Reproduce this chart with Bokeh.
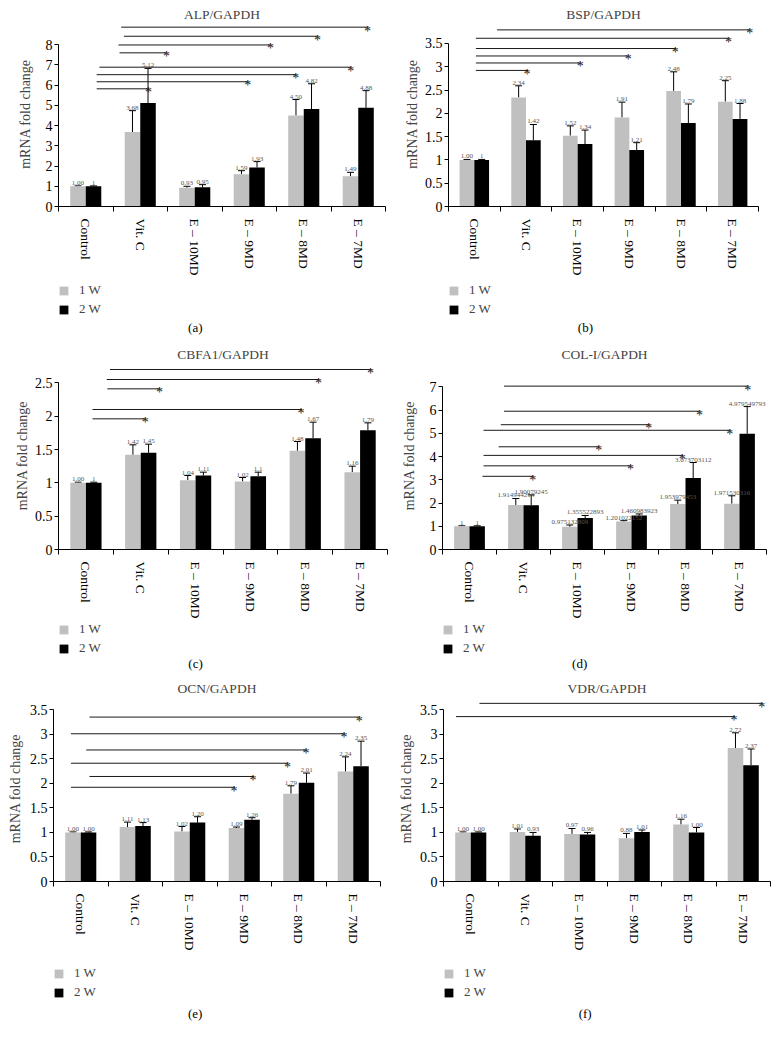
from bokeh.plotting import figure
from bokeh.models import (Range1d, FixedTicker, NumeralTickFormatter, Whisker, TeeHead,
                          ColumnDataSource, Legend, LegendItem)
from bokeh.layouts import column, row
from bokeh.embed import file_html
from bokeh.resources import INLINE
from bokeh.core.properties import value

# ---------------- data ----------------
categories = ["Control", "Vit. C", "E \u2013 10MD", "E \u2013 9MD", "E \u2013 8MD", "E \u2013 7MD"]
series_names = ["1 W", "2 W"]

# (a) ALP/GAPDH
alp_1w = [1.00, 3.68, 0.93, 1.59, 4.50, 1.49]
alp_2w = [1.00, 5.12, 0.95, 1.93, 4.82, 4.88]
alp_err_1w = [0.02, 1.06, 0.07, 0.18, 0.79, 0.20]
alp_err_2w = [0.02, 1.71, 0.13, 0.29, 1.25, 0.85]
alp_lab_1w = ["1.00", "3.68", "0.93", "1.59", "4.50", "1.49"]
alp_lab_2w = ["1", "5.12", "0.95", "1.93", "4.82", "4.88"]
alp_sig_from = [0.65, 0.70, 0.60, 0.62, 0.25, 0.20, 0.20, 0.20]
alp_sig_to = [5.19, 4.27, 3.41, 1.50, 4.88, 3.87, 2.99, 1.17]
alp_sig_y = [8.87, 8.42, 7.99, 7.60, 6.89, 6.52, 6.17, 5.82]

# (b) BSP/GAPDH
bsp_1w = [1.00, 2.34, 1.52, 1.91, 2.48, 2.25]
bsp_2w = [1.00, 1.42, 1.34, 1.21, 1.79, 1.88]
bsp_err_1w = [0.01, 0.25, 0.21, 0.33, 0.41, 0.45]
bsp_err_2w = [0.01, 0.34, 0.30, 0.16, 0.41, 0.33]
bsp_lab_1w = ["1.00", "2.34", "1.52", "1.91", "2.48", "2.25"]
bsp_lab_2w = ["1", "1.42", "1.34", "1.21", "1.79", "1.88"]
bsp_sig_from = [0.44, 0.03, 0.03, 0.03, 0.03, 0.03]
bsp_sig_to = [5.35, 4.94, 3.91, 3.00, 2.07, 1.04]
bsp_sig_y = [3.79, 3.61, 3.39, 3.23, 3.08, 2.92]

# (c) CBFA1/GAPDH
cbfa1_1w = [1.00, 1.42, 1.04, 1.02, 1.48, 1.16]
cbfa1_2w = [1.00, 1.45, 1.11, 1.10, 1.67, 1.79]
cbfa1_err_1w = [0.01, 0.15, 0.07, 0.06, 0.14, 0.09]
cbfa1_err_2w = [0.01, 0.13, 0.05, 0.06, 0.24, 0.11]
cbfa1_lab_1w = ["1.00", "1.42", "1.04", "1.02", "1.48", "1.16"]
cbfa1_lab_2w = ["1", "1.45", "1.11", "1.1", "1.67", "1.79"]
cbfa1_sig_from = [0.44, 0.38, 0.39, 0.12, 0.12]
cbfa1_sig_to = [5.21, 4.26, 1.36, 3.94, 1.10]
cbfa1_sig_y = [2.70, 2.55, 2.41, 2.10, 1.96]

# (d) COL-I/GAPDH
col1_1w = [1, 1.914944214, 0.975132809, 1.201022152, 1.953979453, 1.971530316]
col1_2w = [1, 1.90079245, 1.355522893, 1.460983923, 3.073703112, 4.979549793]
col1_err_1w = [0.02, 0.28, 0.08, 0.04, 0.17, 0.34]
col1_err_2w = [0.02, 0.45, 0.11, 0.07, 0.67, 1.17]
col1_lab_1w = ["1", "1.914944214", "0.975132809", "1.201022152", "1.953979453", "1.971530316"]
col1_lab_2w = ["1", "1.90079245", "1.355522893", "1.460983923", "3.073703112", "4.979549793"]
col1_sig_from = [0.64, 0.64, 0.58, 0.26, 0.54, 0.26, 0.26, 0.24]
col1_sig_to = [5.17, 4.28, 3.34, 4.84, 2.41, 3.96, 3.00, 1.19]
col1_sig_y = [7.03, 5.95, 5.37, 5.13, 4.42, 4.05, 3.60, 3.15]

# (e) OCN/GAPDH
ocn_1w = [1.00, 1.11, 1.02, 1.09, 1.79, 2.24]
ocn_2w = [1.00, 1.13, 1.20, 1.26, 2.01, 2.35]
ocn_err_1w = [0.01, 0.10, 0.10, 0.02, 0.16, 0.30]
ocn_err_2w = [0.01, 0.07, 0.12, 0.04, 0.20, 0.51]
ocn_lab_1w = ["1.00", "1.11", "1.02", "1.09", "1.79", "2.24"]
ocn_lab_2w = ["1.00", "1.13", "1.20", "1.26", "2.01", "2.35"]
ocn_sig_from = [0.16, -0.18, 0.10, -0.18, 0.16, -0.18]
ocn_sig_to = [5.13, 4.85, 4.15, 3.81, 3.18, 2.83]
ocn_sig_y = [3.35, 3.01, 2.68, 2.41, 2.14, 1.92]

# (f) VDR/GAPDH
vdr_1w = [1.00, 1.01, 0.97, 0.88, 1.16, 2.72]
vdr_2w = [1.00, 0.93, 0.96, 1.01, 1.00, 2.37]
vdr_err_1w = [0.01, 0.06, 0.11, 0.10, 0.11, 0.31]
vdr_err_2w = [0.01, 0.07, 0.04, 0.04, 0.10, 0.33]
vdr_lab_1w = ["1.00", "1.01", "0.97", "0.88", "1.16", "2.72"]
vdr_lab_2w = ["1.00", "0.93", "0.96", "1.01", "1.00", "2.37"]
vdr_sig_from = [0.16, -0.27]
vdr_sig_to = [5.36, 4.85]
vdr_sig_y = [3.63, 3.36]

# ---------------- style ----------------
FONT = "Liberation Serif"
GRAY = "#c0c0c0"
BLACK = "#000000"
BAR_W = 0.285
OFF = 0.1425
FIG_W = 390
XR = (-0.5, 5.5)


def make_main(title, v1, v2, e1, e2, l1, l2, s0, s1, sy, ymax, ystep, yend, lay):
    H, L, R, T, ylab_so = lay
    B = 70
    p = figure(width=FIG_W, height=H, x_range=Range1d(*XR), y_range=Range1d(0, yend),
               output_backend="svg", toolbar_location=None,
               min_border_left=L, min_border_right=R, min_border_top=T, min_border_bottom=B)
    p.title.text = title
    p.title.text_font = FONT
    p.title.text_font_size = "13.5px"
    p.title.text_font_style = "normal"
    p.title.align = "center"
    p.title.standoff = 0
    p.outline_line_color = None
    p.xgrid.visible = False
    p.ygrid.visible = False

    xs = list(range(len(categories)))
    src1 = ColumnDataSource(dict(x=[x - OFF for x in xs], top=v1,
                                 up=[a + b for a, b in zip(v1, e1)], lab=l1))
    src2 = ColumnDataSource(dict(x=[x + OFF for x in xs], top=v2,
                                 up=[a + b for a, b in zip(v2, e2)], lab=l2))

    p.vbar(x="x", top="top", width=BAR_W, source=src1, fill_color=GRAY, line_color=None)
    p.vbar(x="x", top="top", width=BAR_W, source=src2, fill_color=BLACK, line_color=None)

    for src in (src1, src2):
        w = Whisker(source=src, base="x", lower="top", upper="up", dimension="height",
                    line_color="black", line_width=1,
                    upper_head=TeeHead(size=7, line_color="black", line_width=1),
                    lower_head=None)
        p.add_layout(w)
        p.text(x="x", y="up", text="lab", source=src, text_font=value(FONT),
               text_font_size="7px", text_color="#555555", text_align="center",
               text_baseline="bottom", y_offset=-1)

    sig = ColumnDataSource(dict(x0=s0, x1=s1, y=sy, star=["*"] * len(sy)))
    p.segment(x0="x0", y0="y", x1="x1", y1="y", source=sig, line_color="#1a1a1a", line_width=1)
    p.text(x="x1", y="y", text="star", source=sig, text_font=value(FONT),
           text_font_size="14px", text_color="#1a1a1a", text_align="center",
           text_baseline="alphabetic", y_offset=4, x_offset=-1)

    n = int(round(ymax / ystep))
    p.yaxis.ticker = FixedTicker(ticks=[k * ystep for k in range(n + 1)])
    p.yaxis.formatter = NumeralTickFormatter(format="0.[0]")
    p.yaxis.bounds = (0, ymax)
    p.yaxis.axis_label = "mRNA fold change"
    p.yaxis.axis_label_text_font = FONT
    p.yaxis.axis_label_text_font_size = "14px"
    p.yaxis.axis_label_text_font_style = "normal"
    p.yaxis.axis_label_standoff = ylab_so
    p.yaxis.major_label_text_font = FONT
    p.yaxis.major_label_text_font_size = "14px"
    p.yaxis.major_label_text_color = "black"
    p.yaxis.major_label_standoff = 2
    p.yaxis.major_tick_in = 0
    p.yaxis.major_tick_out = 4
    p.yaxis.minor_tick_line_color = None
    p.yaxis.axis_line_color = "black"
    p.yaxis.major_tick_line_color = "black"

    p.xaxis.ticker = FixedTicker(ticks=xs, minor_ticks=[x - 0.5 for x in xs] + [5.5])
    p.xaxis.major_label_overrides = {i: c for i, c in enumerate(categories)}
    p.xaxis.major_label_orientation = "vertical"
    p.xaxis.major_label_text_font = FONT
    p.xaxis.major_label_text_font_size = "13.5px"
    p.xaxis.major_label_text_color = "black"
    p.xaxis.major_label_standoff = 7
    p.xaxis.major_tick_in = 0
    p.xaxis.major_tick_out = 0
    p.xaxis.minor_tick_in = 0
    p.xaxis.minor_tick_out = 5
    p.xaxis.minor_tick_line_color = "black"
    p.xaxis.axis_line_color = "black"
    return p


def make_foot(caption, lay):
    # the foot frame is aligned with the main frame above it (same x range)
    hf, leg_top, cap_x, cap_y = lay
    f = figure(width=FIG_W, height=hf, x_range=Range1d(*XR), y_range=Range1d(0, hf),
               output_backend="svg", toolbar_location=None, x_axis_type=None, y_axis_type=None,
               min_border=0)
    f.outline_line_color = None
    f.xgrid.visible = False
    f.ygrid.visible = False
    hidden1 = ColumnDataSource(dict(x=[-99], top=[0]))
    hidden2 = ColumnDataSource(dict(x=[-99], top=[0]))
    r1 = f.vbar(x="x", top="top", width=0.3, source=hidden1, fill_color=GRAY, line_color=None)
    r2 = f.vbar(x="x", top="top", width=0.3, source=hidden2, fill_color=BLACK, line_color=None)
    leg_h = 35
    legend = Legend(items=[LegendItem(label=series_names[0], renderers=[r1]),
                           LegendItem(label=series_names[1], renderers=[r2])],
                    location=(0, hf - leg_top - leg_h), orientation="vertical",
                    margin=0, padding=0, border_line_color=None, background_fill_alpha=0,
                    glyph_width=11, glyph_height=11, label_height=11, spacing=3,
                    label_standoff=10, label_text_font=FONT, label_text_font_size="13px",
                    label_text_baseline="middle")
    f.add_layout(legend, "center")
    f.text(x=[cap_x], y=[hf - cap_y], text=[caption], text_font=value(FONT),
           text_font_size="13px", text_color="black", text_align="center",
           text_baseline="middle")
    return f


# main layout: (height, min_border left, right, top, y-label standoff)
pa = make_main("ALP/GAPDH", alp_1w, alp_2w, alp_err_1w, alp_err_2w, alp_lab_1w, alp_lab_2w,
               alp_sig_from, alp_sig_to, alp_sig_y, 8, 1, 9.15, (278, 58, 5, 21, 10))
pb = make_main("BSP/GAPDH", bsp_1w, bsp_2w, bsp_err_1w, bsp_err_2w, bsp_lab_1w, bsp_lab_2w,
               bsp_sig_from, bsp_sig_to, bsp_sig_y, 3.5, 0.5, 3.97, (278, 58, 22, 21, 2))
pc = make_main("CBFA1/GAPDH", cbfa1_1w, cbfa1_2w, cbfa1_err_1w, cbfa1_err_2w, cbfa1_lab_1w,
               cbfa1_lab_2w, cbfa1_sig_from, cbfa1_sig_to, cbfa1_sig_y, 2.5, 0.5, 2.82,
               (284, 58, 3, 24, 2))
pd_ = make_main("COL-I/GAPDH", col1_1w, col1_2w, col1_err_1w, col1_err_2w, col1_lab_1w,
                col1_lab_2w, col1_sig_from, col1_sig_to, col1_sig_y, 7, 1, 8.09,
                (284, 52, 14, 24, 10))
pe = make_main("OCN/GAPDH", ocn_1w, ocn_2w, ocn_err_1w, ocn_err_2w, ocn_lab_1w, ocn_lab_2w,
               ocn_sig_from, ocn_sig_to, ocn_sig_y, 3.5, 0.5, 3.79, (280, 53, 10, 22, 4))
pf = make_main("VDR/GAPDH", vdr_1w, vdr_2w, vdr_err_1w, vdr_err_2w, vdr_lab_1w, vdr_lab_2w,
               vdr_sig_from, vdr_sig_to, vdr_sig_y, 3.5, 0.5, 3.79, (280, 53, 10, 22, 3))

# foot layout: (height, legend top, caption x in category units, caption y from top)
fa = make_foot("(a)", (59, 4, 2.01, 49))
fb = make_foot("(b)", (59, 4, 2.15, 49))
fc = make_foot("(c)", (52, 0, 2.00, 42))
fd = make_foot("(d)", (52, 0, 2.04, 42))
fe = make_foot("(e)", (86, 12, 2.10, 60))
ff = make_foot("(f)", (86, 12, 2.10, 60))

layout = column(row(column(pa, fa), column(pb, fb)),
                row(column(pc, fc), column(pd_, fd)),
                row(column(pe, fe), column(pf, ff)))
open("out.html", "w").write(file_html(layout, INLINE))
